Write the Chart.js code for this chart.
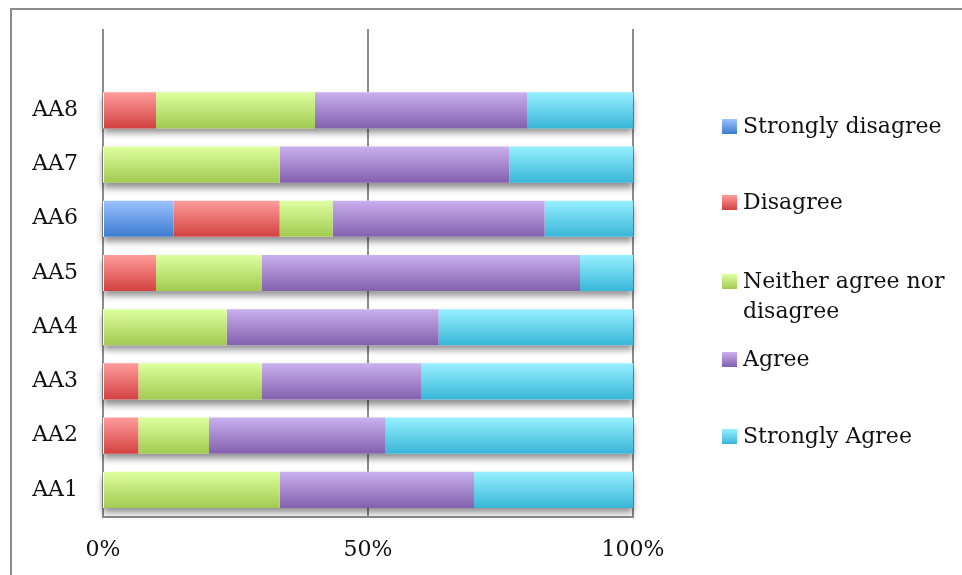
<!DOCTYPE html>
<html>
<head>
<meta charset="utf-8">
<script src="https://cdn.jsdelivr.net/npm/chart.js@4"></script>
<style>
  html, body { margin: 0; padding: 0; background: #fff; }
  #wrap { position: relative; width: 962px; height: 575px; }
  #chart { position: absolute; left: 0; top: 0; }
  #legend { position: absolute; left: 0; top: 0; width: 962px; height: 575px; pointer-events: none;
            font-family: "DejaVu Serif", serif; font-size: 22px; color: #111; }
  .item { position: absolute; left: 722px; display: flex; align-items: flex-start; }
  .box { width: 15px; height: 15px; margin-right: 6px; flex: none; }
  .txt { line-height: 30px; margin-top: -8px; white-space: nowrap; }
</style>
</head>
<body>
<div id="wrap">
  <canvas id="chart" width="962" height="575"></canvas>
  <div id="legend"></div>
</div>
<script>
// Survey items, listed top to bottom (the first slot is an empty spacer row)
const categories = ['', 'AA8', 'AA7', 'AA6', 'AA5', 'AA4', 'AA3', 'AA2', 'AA1'];

// Share of responses (%) per answer, same order as categories
const stronglyDisagree = [null, 0, 0, 13.33, 0, 0, 0, 0, 0];
const disagree         = [null, 10, 0, 20, 10, 0, 6.67, 6.67, 0];
const neither          = [null, 30, 33.33, 10, 20, 23.33, 23.33, 13.33, 33.33];
const agree            = [null, 40, 43.33, 40, 60, 40, 30, 33.33, 36.67];
const stronglyAgree    = [null, 20, 23.33, 16.67, 10, 36.67, 40, 46.67, 30];

const xTicks = [0, 50, 100];

const seriesNames = ['Strongly disagree', 'Disagree', 'Neither agree nor disagree', 'Agree', 'Strongly Agree'];
const seriesData = [stronglyDisagree, disagree, neither, agree, stronglyAgree];

// top / bottom colour of each bar's vertical gradient
const shades = [
  ['#9cc3ff', '#3c7bd0'],
  ['#ff9c9c', '#d24140'],
  ['#deffa0', '#a2ca50'],
  ['#c9b0ee', '#8360ae'],
  ['#97f0ff', '#38b6d8']
];

const BAR_PCT = 0.667;

function barGradient(ctx, idx) {
  const chart = ctx.chart;
  const y = chart.scales && chart.scales.y;
  if (!y || ctx.type !== 'data') return shades[idx][0];
  const c = y.getPixelForValue(ctx.dataIndex);
  const half = (y.getPixelForValue(1) - y.getPixelForValue(0)) * BAR_PCT / 2;
  if (!isFinite(c) || !isFinite(half) || half === 0) return shades[idx][0];
  const g = chart.ctx.createLinearGradient(0, c - half, 0, c + half);
  g.addColorStop(0, shades[idx][0]);
  g.addColorStop(1, shades[idx][1]);
  return g;
}

// outer frame (only top and left edges fall inside the canvas)
const framePlugin = {
  id: 'frame',
  beforeDraw(chart) {
    const ctx = chart.ctx;
    ctx.save();
    ctx.strokeStyle = '#8a8a8a';
    ctx.lineWidth = 2;
    ctx.beginPath();
    ctx.moveTo(962, 9);
    ctx.lineTo(11, 9);
    ctx.lineTo(11, 575);
    ctx.stroke();
    ctx.restore();
  }
};

// soft drop shadow under every full stacked bar
const shadowPlugin = {
  id: 'barShadow',
  beforeDatasetsDraw(chart) {
    const ctx = chart.ctx;
    const xs = chart.scales.x, ys = chart.scales.y;
    const half = (ys.getPixelForValue(1) - ys.getPixelForValue(0)) * BAR_PCT / 2;
    ctx.save();
    ctx.shadowColor = 'rgba(0,0,0,0.45)';
    ctx.shadowBlur = 7;
    ctx.shadowOffsetX = 0;
    ctx.shadowOffsetY = 5;
    ctx.fillStyle = '#ffffff';
    categories.forEach((cat, i) => {
      let total = 0, any = false;
      seriesData.forEach(s => { if (s[i] != null) { total += s[i]; any = true; } });
      if (!any) return;
      const x0 = xs.getPixelForValue(0), x1 = xs.getPixelForValue(total);
      const c = ys.getPixelForValue(i);
      ctx.fillRect(x0, c - half, x1 - x0, half * 2);
    });
    ctx.restore();
  }
};

const datasets = seriesNames.map((name, i) => ({
  label: name,
  data: seriesData[i],
  backgroundColor: (ctx) => barGradient(ctx, i),
  borderWidth: 0,
  categoryPercentage: 1,
  barPercentage: BAR_PCT
}));

new Chart(document.getElementById('chart'), {
  type: 'bar',
  data: { labels: categories, datasets },
  options: {
    indexAxis: 'y',
    responsive: false,
    animation: false,
    layout: { padding: { top: 29, right: 329, left: 0, bottom: 0 } },
    plugins: { legend: { display: false }, tooltip: { enabled: false } },
    scales: {
      x: {
        stacked: true,
        min: 0, max: 100,
        afterBuildTicks(scale) { scale.ticks = xTicks.map(v => ({ value: v })); },
        afterFit(scale) { scale.height = 58; },
        grid: { color: '#8c8c8c', lineWidth: 2, drawTicks: false },
        border: { display: true, color: '#8c8c8c', width: 2 },
        ticks: {
          padding: 20,
          color: '#111',
          font: { family: 'DejaVu Serif', size: 22 },
          callback: (v) => v + '%'
        }
      },
      y: {
        stacked: true,
        afterFit(scale) {
          scale.width = 103;
          scale.paddingTop = 0;
          scale.paddingBottom = 0;
        },
        grid: { display: false, drawTicks: false },
        border: { display: false },
        ticks: {
          padding: 25,
          color: '#111',
          font: { family: 'DejaVu Serif', size: 22 }
        }
      }
    }
  },
  plugins: [framePlugin, shadowPlugin]
});

// legend on the right, with the long label broken over two lines
const legendTops = [119, 195, 274, 352, 429];
const legendEl = document.getElementById('legend');
seriesNames.forEach((name, i) => {
  const item = document.createElement('div');
  item.className = 'item';
  item.style.top = legendTops[i] + 'px';
  const box = document.createElement('div');
  box.className = 'box';
  box.style.background = 'linear-gradient(' + shades[i][0] + ',' + shades[i][1] + ')';
  const txt = document.createElement('div');
  txt.className = 'txt';
  if (name === 'Neither agree nor disagree') {
    txt.innerHTML = 'Neither agree nor<br>disagree';
  } else {
    txt.textContent = name;
  }
  item.appendChild(box);
  item.appendChild(txt);
  legendEl.appendChild(item);
});
</script>
</body>
</html>
